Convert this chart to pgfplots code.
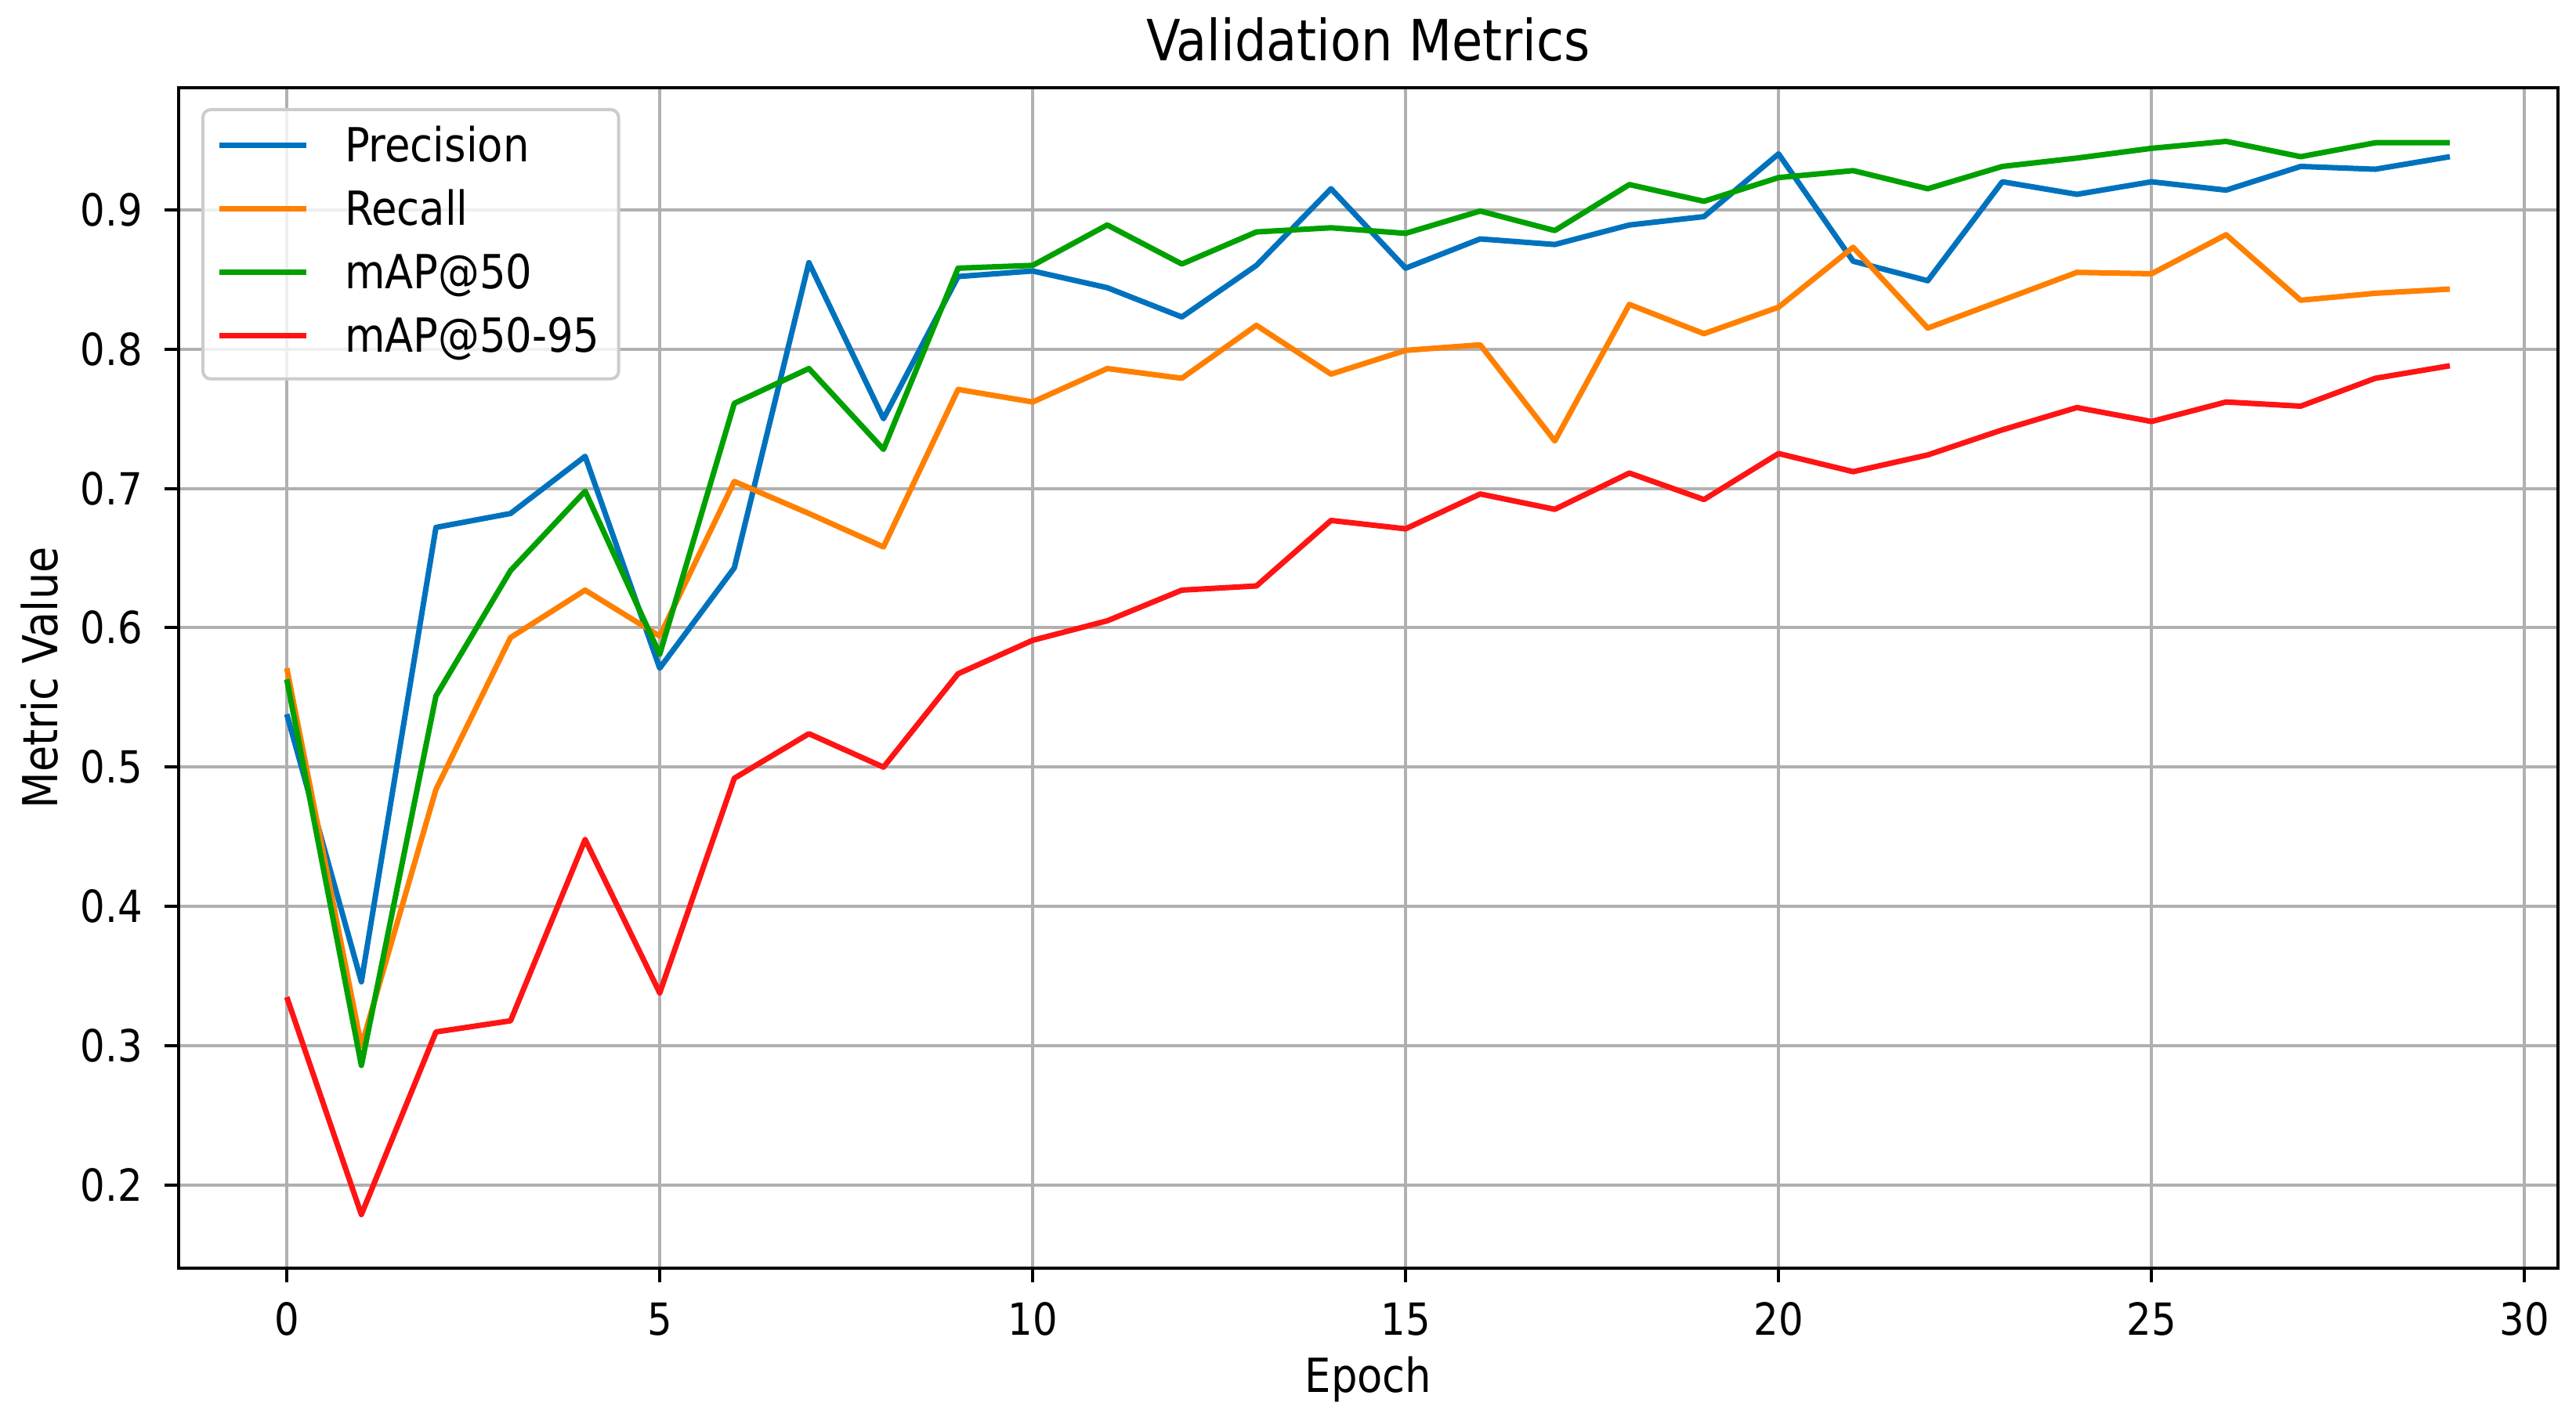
\documentclass[border=0pt]{standalone}
\usepackage{fontspec}
\setmainfont{DejaVu Sans}[FakeStretch=0.88]
\usepackage{pgfplots}
\pgfplotsset{compat=1.18}

\definecolor{cprec}{RGB}{0,114,189}
\definecolor{crec}{RGB}{255,128,0}
\definecolor{cmap}{RGB}{0,160,0}
\definecolor{cmapb}{RGB}{255,20,20}
\definecolor{gridgray}{RGB}{176,176,176}
\definecolor{legframe}{RGB}{204,204,204}

\begin{document}
\fontsize{11pt}{13pt}\selectfont
\begin{tikzpicture}
\begin{axis}[
  at={(0pt,0pt)}, anchor=south west,
  scale only axis, width=607.4pt, height=301.4pt,
  xmin=-1.45, xmax=30.45, ymin=0.1405, ymax=0.9875,
  xtick={0,5,10,15,20,25,30},
  ytick={0.2,0.3,0.4,0.5,0.6,0.7,0.8,0.9},
  minor tick num=0,
  tick pos=left,
  tick align=outside, major tick length=3.5pt,
  every tick/.style={black, line width=0.8pt},
  axis line style={black, line width=0.8pt},
  grid=major,
  major grid style={gridgray, line width=0.8pt},
  /pgf/number format/assume math mode=true,
  ticklabel style={font=\fontsize{11.3pt}{13pt}\selectfont, inner sep=0pt},
  xticklabel style={anchor=north},
  yticklabel style={anchor=east, /pgf/number format/fixed,
    /pgf/number format/fixed zerofill, /pgf/number format/precision=1},
  xticklabel shift=5.1pt,
  yticklabel shift=5.5pt,
  title={Validation Metrics},
  title style={at={(axis description cs:0.5,1)}, anchor=base, inner sep=0pt,
    yshift=0.8pt, font=\fontsize{14.5pt}{17pt}\selectfont},
  xlabel={Epoch},
  xlabel style={at={(axis description cs:0.5,0)}, anchor=north, inner sep=0pt,
    yshift=-22.3pt, font=\fontsize{12pt}{14pt}\selectfont},
  ylabel={Metric Value},
  ylabel style={at={(axis description cs:-0.0665,0.5)}, rotate=0, anchor=north,
    inner sep=0pt, font=\fontsize{12.3pt}{14pt}\selectfont},
  no markers,
  every axis plot/.append style={line width=1.4pt, line join=round},
  legend cell align=left,
  legend image code/.code={
    \draw[#1] (0pt,4.3pt) -- (22pt,4.3pt);
  },
  legend style={at={(axis description cs:0,1)}, anchor=north west,
    xshift=5.8pt, yshift=-5.2pt,
    draw=legframe, line width=0.8pt, rounded corners=2pt,
    fill=white, fill opacity=0.8, text opacity=1,
    inner xsep=3.6pt, inner ysep=4.6pt, row sep=5.25pt,
    font=\fontsize{12pt}{14pt}\selectfont,
    /tikz/every odd column/.append style={column sep=8pt},
    nodes={inner ysep=0pt, inner xsep=1.2pt, text height=8.75pt, text depth=2.2pt, anchor=base west}},
]
\addplot[cprec] coordinates {
(0,0.538) (1,0.346) (2,0.672) (3,0.682) (4,0.723) (5,0.571) (6,0.643) (7,0.862)
(8,0.750) (9,0.852) (10,0.856) (11,0.844) (12,0.823) (13,0.860) (14,0.915)
(15,0.858) (16,0.879) (17,0.875) (18,0.889) (19,0.895) (20,0.940) (21,0.863)
(22,0.849) (23,0.920) (24,0.911) (25,0.920) (26,0.914) (27,0.931) (28,0.929)
(29,0.938)
};
\addplot[crec] coordinates {
(0,0.571) (1,0.300) (2,0.484) (3,0.593) (4,0.627) (5,0.594) (6,0.705) (7,0.682)
(8,0.658) (9,0.771) (10,0.762) (11,0.786) (12,0.779) (13,0.817) (14,0.782)
(15,0.799) (16,0.803) (17,0.734) (18,0.832) (19,0.811) (20,0.830) (21,0.873)
(22,0.815) (23,0.835) (24,0.855) (25,0.854) (26,0.882) (27,0.835) (28,0.840)
(29,0.843)
};
\addplot[cmap] coordinates {
(0,0.563) (1,0.286) (2,0.551) (3,0.641) (4,0.698) (5,0.581) (6,0.761) (7,0.786)
(8,0.728) (9,0.858) (10,0.860) (11,0.889) (12,0.861) (13,0.884) (14,0.887)
(15,0.883) (16,0.899) (17,0.885) (18,0.918) (19,0.906) (20,0.923) (21,0.928)
(22,0.915) (23,0.931) (24,0.937) (25,0.944) (26,0.949) (27,0.938) (28,0.948)
(29,0.948)
};
\addplot[cmapb] coordinates {
(0,0.335) (1,0.179) (2,0.310) (3,0.318) (4,0.448) (5,0.338) (6,0.492) (7,0.524)
(8,0.500) (9,0.567) (10,0.591) (11,0.605) (12,0.627) (13,0.630) (14,0.677)
(15,0.671) (16,0.696) (17,0.685) (18,0.711) (19,0.692) (20,0.725) (21,0.712)
(22,0.724) (23,0.742) (24,0.758) (25,0.748) (26,0.762) (27,0.759) (28,0.779)
(29,0.788)
};
\legend{Precision,Recall,mAP@50,mAP@50-95}
\end{axis}
\pgfresetboundingbox
\path[use as bounding box] (-45.6pt,-37.8pt) rectangle (612pt,323.8pt);
\end{tikzpicture}
\end{document}
